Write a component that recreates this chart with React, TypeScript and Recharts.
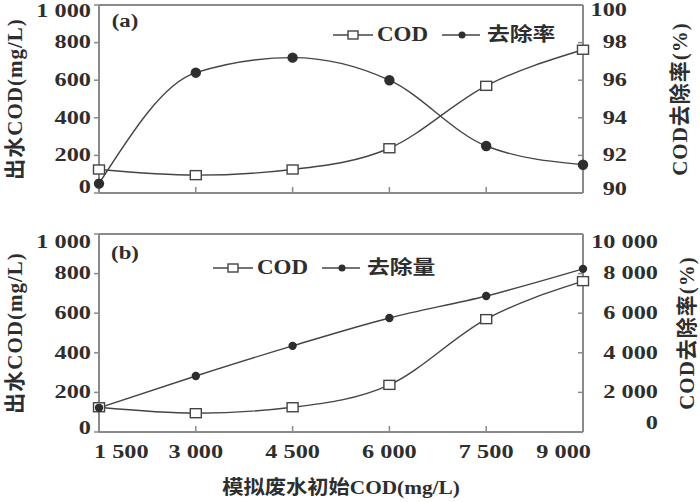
import React from 'react';
import { LineChart, Line, XAxis, YAxis, Legend, ReferenceLine } from 'recharts';

// ---- data ----
const initialCOD = [1500, 3000, 4500, 6000, 7500, 9000];
const effluentCOD = [125, 95, 125, 238, 570, 762];
const removalRate = [90.5, 96.4, 97.2, 96.0, 92.5, 91.5];
const removalAmount = [1220, 2830, 4350, 5760, 6870, 8240];
const xTicks = [1500, 3000, 4500, 6000, 7500, 9000];
const codTicks = [0, 200, 400, 600, 800, 1000];
const rateTicks = [90, 92, 94, 96, 98, 100];
const amountTicks = [0, 2000, 4000, 6000, 8000, 10000];
const xTitle = '模拟废水初始COD(mg/L)';
const leftTitle = '出水COD(mg/L)';
const rightTitle = 'COD去除率(%)';
const seriesA = ['COD', '去除率'];
const seriesB = ['COD', '去除量'];
const panelA = '(a)';
const panelB = '(b)';

const dataA = initialCOD.map((x, i) => ({ x, cod: effluentCOD[i], rate: removalRate[i] }));
const dataB = initialCOD.map((x, i) => ({ x, cod: effluentCOD[i], amount: removalAmount[i] }));

// ---- styles ----
const FONT = '"Liberation Serif", "Noto Sans CJK SC", serif';
const INK = '#2e2e2e';
const LINE = '#444';
const AXIS = '#8a8a8a';

const fmt = (v: number) => String(v).replace(/\B(?=(\d{3})+(?!\d))/g, ' ');

const SText = ({ x, y, sx = 1.35, anchor = 'middle', size = 18, weight = 'bold', children }: any) => (
  <text
    transform={`translate(${x},${y}) scale(${sx},1)`}
    textAnchor={anchor}
    dominantBaseline="central"
    fontSize={size}
    fontFamily={FONT}
    fontWeight={weight}
    fill={INK}
  >
    {children}
  </text>
);

const makeLeftTick = (dyTop: number, dyBottom: number) => (props: any) => {
  const { x, y, payload, index } = props;
  const n = codTicks.length;
  const dy = index === 0 ? dyBottom : index === n - 1 ? dyTop : 0;
  return (
    <SText x={x} y={y + dy} anchor="end">
      {fmt(payload.value)}
    </SText>
  );
};

const makeRightTick = (endX: number, dyTop: number, dyBottom: number) => (props: any) => {
  const { y, payload, index } = props;
  const n = 6;
  const dy = index === 0 ? dyBottom : index === n - 1 ? dyTop : 0;
  return (
    <SText x={endX} y={y + dy} anchor="end">
      {fmt(payload.value)}
    </SText>
  );
};

const XTickB = (props: any) => {
  const { x, y, payload, index } = props;
  const n = xTicks.length;
  let anchor = 'middle';
  let xx = x;
  if (index === 0) {
    anchor = 'start';
    xx = x - 5;
  } else if (index === n - 1) {
    anchor = 'end';
    xx = x + 8;
  }
  return (
    <SText x={xx} y={y + 24} anchor={anchor}>
      {fmt(payload.value)}
    </SText>
  );
};

const EmptyTick = () => <g />;

const SquareDot = (p: any) => {
  if (p.cx == null || p.cy == null) return <g key={p.index} />;
  return (
    <rect
      key={`sq-${p.index}`}
      x={p.cx - 5.5}
      y={p.cy - 4.5}
      width={11}
      height={9}
      fill="#fff"
      stroke={LINE}
      strokeWidth={1.4}
    />
  );
};

const RotLabel = (x: number, text: string, size = 21) => (props: any) => {
  const vb = props.viewBox || {};
  const cy = (vb.y || 0) + (vb.height || 0) / 2;
  return (
    <text
      transform={`translate(${x},${cy}) rotate(-90)`}
      textAnchor="middle"
      dominantBaseline="central"
      fontSize={size}
      fontFamily={FONT}
      fontWeight="bold"
      letterSpacing={1}
      fill={INK}
    >
      {text}
    </text>
  );
};

const PanelLabel = (text: string, dx: number, dy: number) => (props: any) => {
  const vb = props.viewBox || {};
  return (
    <SText x={(vb.x || 0) + dx} y={(vb.y || 0) + dy} sx={1.2} size={19} anchor="middle">
      {text}
    </SText>
  );
};

const XTitle = (props: any) => {
  const vb = props.viewBox || {};
  return (
    <SText x={(vb.x || 0) + (vb.width || 0) / 2} y={(vb.y || 0) + 55} sx={1.12} size={19} anchor="middle">
      {xTitle}
    </SText>
  );
};

const makeLegend = (names: string[], x0: number, y0: number) => () => (
  <svg width={700} height={y0 + 20} style={{ position: 'absolute', left: 0, top: 0, overflow: 'visible' }}>
    <line x1={x0} x2={x0 + 40} y1={y0} y2={y0} stroke={LINE} strokeWidth={1.4} />
    <rect x={x0 + 15} y={y0 - 4} width={10} height={8} fill="#fff" stroke={LINE} strokeWidth={1.4} />
    <SText x={x0 + 44} y={y0} anchor="start" sx={1.15} size={20}>
      {names[0]}
    </SText>
    <line x1={x0 + 109} x2={x0 + 147} y1={y0} y2={y0} stroke={LINE} strokeWidth={1.4} />
    <circle cx={x0 + 129} cy={y0} r={3.5} fill={INK} />
    <SText x={x0 + 154} y={y0} anchor="start" sx={1.2} size={19}>
      {names[1]}
    </SText>
  </svg>
);

export default function App() {
  return (
    <div style={{ position: 'absolute', left: 0, top: 0, width: 700, height: 502, background: '#fff' }}>
      <div style={{ position: 'absolute', left: 0, top: 0 }}>
        <LineChart width={700} height={200} data={dataA} margin={{ top: 5, right: 0, left: 0, bottom: 6 }}>
          <XAxis
            dataKey="x"
            type="number"
            domain={[1500, 9000]}
            ticks={xTicks}
            interval={0}
            height={1}
            tickSize={-6}
            tick={EmptyTick}
            axisLine={{ stroke: AXIS, strokeWidth: 2 }}
            tickLine={{ stroke: AXIS, strokeWidth: 1.5 }}
          />
          <YAxis
            yAxisId="left"
            domain={[0, 1000]}
            ticks={codTicks}
            interval={0}
            width={99}
            tickSize={5}
            tickMargin={3}
            tick={makeLeftTick(6, -6)}
            axisLine={{ stroke: AXIS, strokeWidth: 2 }}
            tickLine={{ stroke: AXIS, strokeWidth: 1.5 }}
            label={RotLabel(15, leftTitle)}
          />
          <YAxis
            yAxisId="right"
            orientation="right"
            domain={[90, 100]}
            ticks={rateTicks}
            interval={0}
            width={117}
            tickSize={-5}
            tick={makeRightTick(627, 5, -4)}
            axisLine={{ stroke: AXIS, strokeWidth: 2 }}
            tickLine={{ stroke: AXIS, strokeWidth: 1.5 }}
            label={RotLabel(680, rightTitle)}
          />
          <ReferenceLine yAxisId="left" y={1000} stroke={AXIS} strokeWidth={2} label={PanelLabel(panelA, 26, 16)} />
          <Legend
            layout="vertical"
            align="center"
            verticalAlign="middle"
            wrapperStyle={{ left: 0, top: 0, width: 700, height: 1 }}
            content={makeLegend(seriesA, 333, 35)}
          />
          <Line
            yAxisId="left"
            dataKey="cod"
            name={seriesA[0]}
            type="monotone"
            stroke={LINE}
            strokeWidth={1.4}
            dot={SquareDot}
            isAnimationActive={false}
          />
          <Line
            yAxisId="right"
            dataKey="rate"
            name={seriesA[1]}
            type="monotone"
            stroke={LINE}
            strokeWidth={1.4}
            dot={{ r: 4.5, fill: INK, stroke: INK }}
            isAnimationActive={false}
          />
        </LineChart>
      </div>
      <div style={{ position: 'absolute', left: 0, top: 200 }}>
        <LineChart width={700} height={302} data={dataB} margin={{ top: 34, right: 0, left: 0, bottom: 0 }}>
          <XAxis
            dataKey="x"
            type="number"
            domain={[1500, 9000]}
            ticks={xTicks}
            interval={0}
            height={70}
            tickSize={-6}
            tick={XTickB}
            axisLine={{ stroke: AXIS, strokeWidth: 2 }}
            tickLine={{ stroke: AXIS, strokeWidth: 1.5 }}
            label={XTitle}
          />
          <YAxis
            yAxisId="left"
            domain={[0, 1000]}
            ticks={codTicks}
            interval={0}
            width={99}
            tickSize={5}
            tickMargin={3}
            tick={makeLeftTick(8, -4)}
            axisLine={{ stroke: AXIS, strokeWidth: 2 }}
            tickLine={{ stroke: AXIS, strokeWidth: 1.5 }}
            label={RotLabel(15, leftTitle)}
          />
          <YAxis
            yAxisId="right"
            orientation="right"
            domain={[0, 10000]}
            ticks={amountTicks}
            interval={0}
            width={117}
            tickSize={-5}
            tick={makeRightTick(658, 8, -9)}
            axisLine={{ stroke: AXIS, strokeWidth: 2 }}
            tickLine={{ stroke: AXIS, strokeWidth: 1.5 }}
            label={RotLabel(687, rightTitle)}
          />
          <ReferenceLine yAxisId="left" y={1000} stroke={AXIS} strokeWidth={2} label={PanelLabel(panelB, 26, 19)} />
          <Legend
            layout="vertical"
            align="center"
            verticalAlign="middle"
            wrapperStyle={{ left: 0, top: 0, width: 700, height: 1 }}
            content={makeLegend(seriesB, 213, 68)}
          />
          <Line
            yAxisId="left"
            dataKey="cod"
            name={seriesB[0]}
            type="monotone"
            stroke={LINE}
            strokeWidth={1.4}
            dot={SquareDot}
            isAnimationActive={false}
          />
          <Line
            yAxisId="right"
            dataKey="amount"
            name={seriesB[1]}
            type="monotone"
            stroke={LINE}
            strokeWidth={1.4}
            dot={{ r: 3.5, fill: INK, stroke: INK }}
            isAnimationActive={false}
          />
        </LineChart>
      </div>
    </div>
  );
}
